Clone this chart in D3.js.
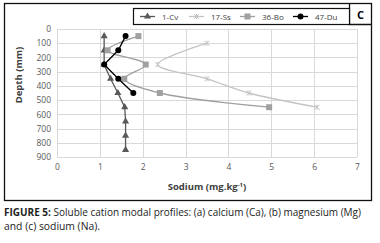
<!DOCTYPE html>
<html>
<head>
<meta charset="utf-8">
<script src="https://cdn.jsdelivr.net/npm/d3@7"></script>
<style>
  body { margin: 0; background: #fff; }
  text { font-family: "Open Sans", "Liberation Sans", sans-serif; }
</style>
</head>
<body>
<svg id="chart"></svg>
<script>
// depth (mm) and sodium (mg/kg) per profile
const cvDepth = [50, 150, 250, 350, 450, 550, 650, 750, 850];
const cvNa = [1.1, 1.1, 1.1, 1.25, 1.42, 1.58, 1.6, 1.6, 1.6];
const ssDepth = [100, 250, 350, 450, 550];
const ssNa = [3.5, 2.35, 3.5, 4.48, 6.07];
const boDepth = [50, 150, 250, 350, 450, 550];
const boNa = [1.9, 1.18, 2.07, 1.57, 2.4, 4.95];
const duDepth = [50, 150, 250, 350, 450];
const duNa = [1.6, 1.43, 1.1, 1.43, 1.78];

const xTicks = [0, 1, 2, 3, 4, 5, 6, 7];
const yTicks = [0, 100, 200, 300, 400, 500, 600, 700, 800, 900];
const seriesNames = ["1-Cv", "17-Ss", "36-Bo", "47-Du"];

const width = 380, height = 243;
const plot = { left: 57, right: 357, top: 29, bottom: 157 };

const svg = d3.select("#chart").attr("width", width).attr("height", height);

const x = d3.scaleLinear().domain([0, 7]).range([plot.left, plot.right]);
const y = d3.scaleLinear().domain([0, 900]).range([plot.top, plot.bottom]);

// outer frame + "C" box
svg.append("rect")
  .attr("x", 4.5).attr("y", 3.5).attr("width", 367).attr("height", 197)
  .attr("fill", "none").attr("stroke", "#111").attr("stroke-width", 1.3);
svg.append("path")
  .attr("d", "M349.5,3.5 V24.5 H371.5")
  .attr("fill", "none").attr("stroke", "#111").attr("stroke-width", 1.3);
svg.append("text")
  .attr("x", 360.5).attr("y", 19)
  .attr("text-anchor", "middle")
  .attr("font-size", 11).attr("font-weight", "bold")
  .text("C");

// grid
const grid = svg.append("g");
grid.selectAll("line.v").data(xTicks).join("line")
  .attr("x1", d => Math.round(x(d)) + 0.5).attr("x2", d => Math.round(x(d)) + 0.5)
  .attr("y1", plot.top).attr("y2", plot.bottom)
  .attr("stroke", "#d9d9d9");
grid.selectAll("line.h").data(yTicks).join("line")
  .attr("y1", d => Math.round(y(d)) + 0.5).attr("y2", d => Math.round(y(d)) + 0.5)
  .attr("x1", plot.left).attr("x2", plot.right)
  .attr("stroke", "#d9d9d9");

// axes (labels only, Excel style)
const xAxis = svg.append("g")
  .attr("transform", `translate(0,${plot.bottom + 4})`)
  .call(d3.axisBottom(x).tickValues(xTicks).tickFormat(d3.format("d")).tickSize(0).tickPadding(3));
const yAxis = svg.append("g")
  .attr("transform", `translate(${plot.left - 6},0)`)
  .call(d3.axisLeft(y).tickValues(yTicks).tickFormat(d3.format("d")).tickSize(0).tickPadding(0));
[xAxis, yAxis].forEach(a => {
  a.select(".domain").remove();
  a.selectAll("text")
    .attr("font-family", "\"Open Sans\", sans-serif")
    .attr("font-size", 8.5).attr("fill", "#595959");
});

const xTitle = svg.append("text")
  .attr("x", 207).attr("y", 190)
  .attr("text-anchor", "middle")
  .attr("font-size", 9.5).attr("font-weight", "bold").attr("fill", "#404040");
xTitle.append("tspan").text("Sodium (mg.kg");
xTitle.append("tspan").attr("dy", -3.5).attr("font-size", 6).text("-1");
xTitle.append("tspan").attr("dy", 3.5).text(")");

svg.append("text")
  .attr("transform", "translate(22,75) rotate(-90)")
  .attr("text-anchor", "middle")
  .attr("font-size", 9.5).attr("font-weight", "bold").attr("fill", "#404040")
  .text("Depth (mm)");

// series
const series = [
  { name: seriesNames[0], depth: cvDepth, na: cvNa, color: "#595959", marker: "triangle", curve: d3.curveLinear },
  { name: seriesNames[1], depth: ssDepth, na: ssNa, color: "#c4c4c4", marker: "cross", curve: d3.curveCatmullRom },
  { name: seriesNames[2], depth: boDepth, na: boNa, color: "#a0a0a0", marker: "square", curve: d3.curveCatmullRom },
  { name: seriesNames[3], depth: duDepth, na: duNa, color: "#000000", marker: "circle", curve: d3.curveLinear }
];

function drawMarker(g, type, color) {
  if (type === "triangle") {
    g.append("path").attr("d", d3.symbol(d3.symbolTriangle, 22)()).attr("fill", color);
  } else if (type === "square") {
    g.append("rect").attr("x", -3).attr("y", -3).attr("width", 6).attr("height", 6).attr("fill", color);
  } else if (type === "circle") {
    g.append("circle").attr("r", 3).attr("fill", color);
  } else {
    g.append("path").attr("d", "M-2.5,-2.5L2.5,2.5M-2.5,2.5L2.5,-2.5M0,-2.5V2.5")
      .attr("stroke", color).attr("stroke-width", 1).attr("fill", "none");
  }
}

series.forEach(s => {
  const pts = s.depth.map((d, i) => [s.na[i], d]);
  const line = d3.line().x(p => x(p[0])).y(p => y(p[1])).curve(s.curve);
  svg.append("path")
    .attr("d", line(pts))
    .attr("fill", "none").attr("stroke", s.color).attr("stroke-width", 1.3);
  svg.append("g").selectAll("g").data(pts).join("g")
    .attr("transform", p => `translate(${x(p[0])},${y(p[1])})`)
    .each(function() { drawMarker(d3.select(this), s.marker, s.color); });
});

// legend
svg.append("rect")
  .attr("x", 133.5).attr("y", 8.5).attr("width", 216).attr("height", 16)
  .attr("fill", "#fff").attr("stroke", "#111").attr("stroke-width", 1.2);
const legendX = [140, 189, 240, 293];
series.forEach((s, i) => {
  const g = svg.append("g").attr("transform", `translate(${legendX[i]},16.5)`);
  g.append("line").attr("x1", 0).attr("x2", 15).attr("stroke", s.color).attr("stroke-width", 1.3);
  drawMarker(g.append("g").attr("transform", "translate(7.5,0)"), s.marker, s.color);
  g.append("text").attr("x", 22).attr("y", 3)
    .attr("font-size", 8).attr("fill", "#404040")
    .text(s.name);
});

// caption
const cap = svg.append("text").attr("x", 4).attr("y", 216)
  .attr("font-size", 10).attr("fill", "#222")
  .attr("textLength", 357).attr("lengthAdjust", "spacingAndGlyphs");
cap.append("tspan").attr("font-weight", "bold").text("FIGURE 5: ");
cap.append("tspan").text("Soluble cation modal profiles: (a) calcium (Ca), (b) magnesium (Mg)");
svg.append("text").attr("x", 4).attr("y", 230)
  .attr("font-size", 10).attr("fill", "#222")
  .attr("textLength", 96).attr("lengthAdjust", "spacingAndGlyphs")
  .text("and (c) sodium (Na).");
</script>
</body>
</html>
